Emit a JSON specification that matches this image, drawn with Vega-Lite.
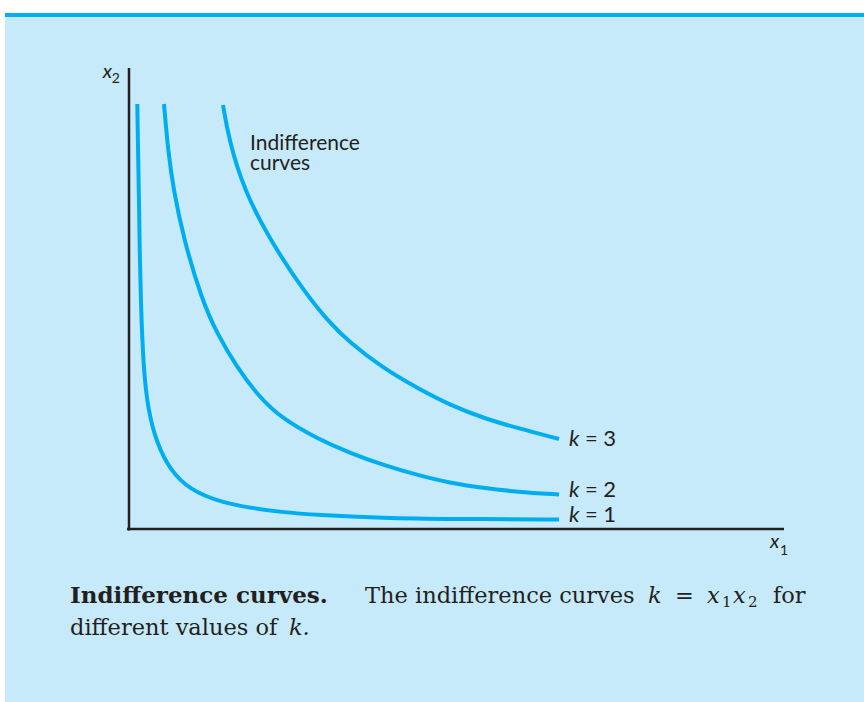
{
  "$schema": "https://vega.github.io/schema/vega-lite/v6.json",
  "width": 859,
  "height": 689,
  "padding": {"left": 5, "top": 13, "right": 0, "bottom": 0},
  "autosize": {"type": "none"},
  "background": "white",
  "config": {"view": {"fill": "#c6eaf9", "stroke": null}},
  "datasets": {
    "band": [{"x": -1.896, "x2": 11.2385, "y": 11.0823, "y2": 11.1688}],
    "axes": [
      {"x": 0, "y": -0.03, "x2": 0, "y2": 9.978},
      {"x": -0.03, "y": 0, "x2": 10.015, "y2": 0}
    ],
    "curves": [
      {"k": 1, "x": 0.127, "y": 9.199},
      {"k": 1, "x": 0.138, "y": 8.203},
      {"k": 1, "x": 0.153, "y": 7.121},
      {"k": 1, "x": 0.163, "y": 6.039},
      {"k": 1, "x": 0.180, "y": 4.957},
      {"k": 1, "x": 0.219, "y": 3.506},
      {"k": 1, "x": 0.290, "y": 2.576},
      {"k": 1, "x": 0.424, "y": 1.861},
      {"k": 1, "x": 0.627, "y": 1.277},
      {"k": 1, "x": 0.933, "y": 0.844},
      {"k": 1, "x": 1.391, "y": 0.584},
      {"k": 1, "x": 1.896, "y": 0.448},
      {"k": 1, "x": 2.309, "y": 0.368},
      {"k": 1, "x": 2.875, "y": 0.303},
      {"k": 1, "x": 3.884, "y": 0.238},
      {"k": 1, "x": 4.908, "y": 0.216},
      {"k": 1, "x": 6.575, "y": 0.206},
      {"k": 2, "x": 0.535, "y": 9.199},
      {"k": 2, "x": 0.596, "y": 8.203},
      {"k": 2, "x": 0.680, "y": 7.338},
      {"k": 2, "x": 0.840, "y": 6.255},
      {"k": 2, "x": 1.116, "y": 4.957},
      {"k": 2, "x": 1.341, "y": 4.242},
      {"k": 2, "x": 1.647, "y": 3.506},
      {"k": 2, "x": 1.990, "y": 2.857},
      {"k": 2, "x": 2.330, "y": 2.400},
      {"k": 2, "x": 2.870, "y": 1.960},
      {"k": 2, "x": 3.379, "y": 1.645},
      {"k": 2, "x": 3.884, "y": 1.385},
      {"k": 2, "x": 4.404, "y": 1.169},
      {"k": 2, "x": 4.908, "y": 0.996},
      {"k": 2, "x": 5.413, "y": 0.890},
      {"k": 2, "x": 5.933, "y": 0.803},
      {"k": 2, "x": 6.575, "y": 0.747},
      {"k": 3, "x": 1.437, "y": 9.177},
      {"k": 3, "x": 1.529, "y": 8.420},
      {"k": 3, "x": 1.758, "y": 7.338},
      {"k": 3, "x": 2.156, "y": 6.255},
      {"k": 3, "x": 2.661, "y": 5.173},
      {"k": 3, "x": 3.028, "y": 4.524},
      {"k": 3, "x": 3.379, "y": 4.026},
      {"k": 3, "x": 3.884, "y": 3.485},
      {"k": 3, "x": 4.404, "y": 3.052},
      {"k": 3, "x": 4.908, "y": 2.684},
      {"k": 3, "x": 5.413, "y": 2.403},
      {"k": 3, "x": 5.933, "y": 2.186},
      {"k": 3, "x": 6.575, "y": 1.948}
    ],
    "sansLabels": [
      {"x": 1.850, "y": 8.203, "t": "Indifference"},
      {"x": 1.850, "y": 7.771, "t": "curves"}
    ],
    "kLabels": [
      {"x": 6.972, "y": 1.797, "t": "= 3"},
      {"x": 6.972, "y": 0.686, "t": "= 2"},
      {"x": 6.972, "y": 0.158, "t": "= 1"}
    ],
    "kItalic": [
      {"x": 6.728, "y": 1.797, "t": "k"},
      {"x": 6.728, "y": 0.686, "t": "k"},
      {"x": 6.728, "y": 0.158, "t": "k"}
    ],
    "sansItalic": [
      {"x": 9.801, "y": -0.411, "t": "x"},
      {"x": -0.402, "y": 9.762, "t": "x"}
    ],
    "sansSub": [
      {"x": 9.954, "y": -0.563, "t": "1"},
      {"x": -0.265, "y": 9.647, "t": "2"}
    ],
    "capBold": [
      {"x": -0.902, "y": -1.608, "t": "Indifference curves."}
    ],
    "capRegular": [
      {"x": 3.609, "y": -1.608, "t": "The indifference curves"},
      {"x": 8.349, "y": -1.608, "t": "="},
      {"x": 9.847, "y": -1.608, "t": "for"},
      {"x": -0.902, "y": -2.294, "t": "different values of"}
    ],
    "capItalic": [
      {"x": 7.936, "y": -1.608, "t": "k"},
      {"x": 8.838, "y": -1.608, "t": "x"},
      {"x": 9.235, "y": -1.608, "t": "x"},
      {"x": 2.446, "y": -2.294, "t": "k."}
    ],
    "capSub": [
      {"x": 9.067, "y": -1.688, "t": "1"},
      {"x": 9.465, "y": -1.688, "t": "2"}
    ]
  },
  "encoding": {
    "x": {"field": "x", "type": "quantitative", "scale": {"domain": [-1.896, 11.2385], "nice": false, "zero": false}, "axis": null},
    "y": {"field": "y", "type": "quantitative", "scale": {"domain": [-3.7446, 11.1688], "nice": false, "zero": false}, "axis": null}
  },
  "layer": [
    {
      "data": {"name": "band"},
      "mark": {"type": "rect", "color": "#00b0f0"},
      "encoding": {"x2": {"field": "x2"}, "y2": {"field": "y2"}}
    },
    {
      "data": {"name": "axes"},
      "mark": {"type": "rule", "stroke": "#231f20", "strokeWidth": 2.5},
      "encoding": {"x2": {"field": "x2"}, "y2": {"field": "y2"}}
    },
    {
      "data": {"name": "curves"},
      "mark": {"type": "line", "stroke": "#00aeef", "strokeWidth": 4, "interpolate": "basis", "strokeCap": "butt"},
      "encoding": {"detail": {"field": "k", "type": "nominal"}, "order": {"field": "x", "type": "quantitative"}}
    },
    {
      "data": {"name": "sansLabels"},
      "mark": {"type": "text", "align": "left", "baseline": "alphabetic", "font": "Lato", "fontSize": 21, "color": "#231f20"},
      "encoding": {"text": {"field": "t"}}
    },
    {
      "data": {"name": "kLabels"},
      "mark": {"type": "text", "align": "left", "baseline": "alphabetic", "font": "Lato", "fontSize": 22, "color": "#231f20"},
      "encoding": {"text": {"field": "t"}}
    },
    {
      "data": {"name": "kItalic"},
      "mark": {"type": "text", "align": "left", "baseline": "alphabetic", "font": "Lato", "fontStyle": "italic", "fontSize": 22, "color": "#231f20"},
      "encoding": {"text": {"field": "t"}}
    },
    {
      "data": {"name": "sansItalic"},
      "mark": {"type": "text", "align": "left", "baseline": "alphabetic", "font": "Lato", "fontStyle": "italic", "fontSize": 20, "color": "#231f20"},
      "encoding": {"text": {"field": "t"}}
    },
    {
      "data": {"name": "sansSub"},
      "mark": {"type": "text", "align": "left", "baseline": "alphabetic", "font": "Lato", "fontSize": 14, "color": "#231f20"},
      "encoding": {"text": {"field": "t"}}
    },
    {
      "data": {"name": "capBold"},
      "mark": {"type": "text", "align": "left", "baseline": "alphabetic", "font": "DejaVu Serif", "fontWeight": "bold", "fontSize": 23, "color": "#231f20"},
      "encoding": {"text": {"field": "t"}}
    },
    {
      "data": {"name": "capRegular"},
      "mark": {"type": "text", "align": "left", "baseline": "alphabetic", "font": "DejaVu Serif", "fontSize": 22.5, "color": "#231f20"},
      "encoding": {"text": {"field": "t"}}
    },
    {
      "data": {"name": "capItalic"},
      "mark": {"type": "text", "align": "left", "baseline": "alphabetic", "font": "DejaVu Serif", "fontStyle": "italic", "fontSize": 22.5, "color": "#231f20"},
      "encoding": {"text": {"field": "t"}}
    },
    {
      "data": {"name": "capSub"},
      "mark": {"type": "text", "align": "left", "baseline": "alphabetic", "font": "DejaVu Serif", "fontSize": 15, "color": "#231f20"},
      "encoding": {"text": {"field": "t"}}
    }
  ]
}
